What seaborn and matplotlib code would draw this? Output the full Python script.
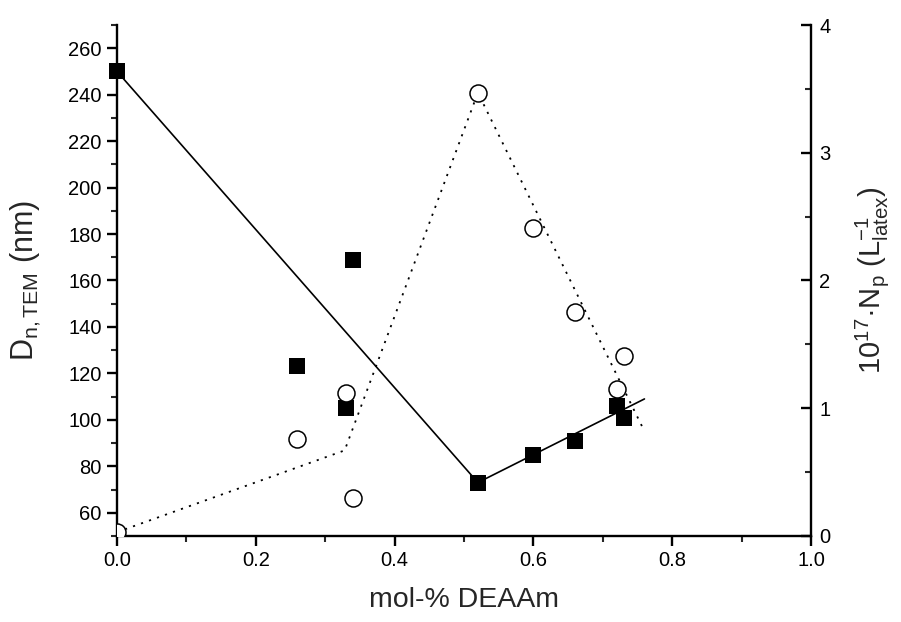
import numpy as np
import pandas as pd
import seaborn as sns
import matplotlib.pyplot as plt
from matplotlib.ticker import MultipleLocator

# filled squares: particle diameter (left axis)
sq_x = [0.0, 0.26, 0.33, 0.34, 0.52, 0.60, 0.66, 0.72, 0.73]
sq_d = [250, 123, 105, 169, 73, 85, 91, 106, 101]
# solid guide line
d_line_x = [0.0, 0.52, 0.76]
d_line_y = [250, 73, 109]

# open circles: particle number (right axis)
ci_x = [0.0, 0.26, 0.33, 0.34, 0.52, 0.60, 0.66, 0.72, 0.73]
ci_n = [0.03, 0.76, 1.12, 0.30, 3.47, 2.41, 1.75, 1.15, 1.41]
# dotted guide line
n_line_x = [0.0, 0.328, 0.52, 0.76]
n_line_y = [0.03, 0.67, 3.47, 0.82]

sns.set_theme(style="white")
plt.rcParams['font.family'] = ['Liberation Sans', 'DejaVu Sans']
plt.rcParams['mathtext.fontset'] = 'custom'
plt.rcParams['mathtext.rm'] = 'Liberation Sans'
plt.rcParams['mathtext.it'] = 'Liberation Sans'

fig = plt.figure(figsize=(9.01, 6.22), dpi=100)
ax = fig.add_axes([0.1299, 0.1383, 0.9001 - 0.1299, 0.9598 - 0.1383])
ax2 = ax.twinx()

sns.lineplot(x=d_line_x, y=d_line_y, ax=ax, color="black", lw=1.2,
             sort=False, estimator=None)
sns.scatterplot(x=sq_x, y=sq_d, ax=ax, marker="s", s=120, color="black",
                edgecolor="black", linewidth=0, zorder=3, clip_on=False)

sns.lineplot(x=n_line_x, y=n_line_y, ax=ax2, color="black", lw=1.3,
             linestyle=(0, (1.2, 3.5)), sort=False, estimator=None)
sns.scatterplot(x=ci_x, y=ci_n, ax=ax2, marker="o", s=150, facecolor="white",
                edgecolor="black", linewidth=1.1, zorder=3)

ax.set_xlim(0, 1.0)
ax.set_ylim(50, 270)
ax2.set_ylim(0, 4)

ax.xaxis.set_major_locator(MultipleLocator(0.2))
ax.xaxis.set_minor_locator(MultipleLocator(0.1))
ax.yaxis.set_minor_locator(MultipleLocator(10))
ax.set_yticks(np.arange(60, 261, 20))
ax2.yaxis.set_major_locator(MultipleLocator(1))
ax2.yaxis.set_minor_locator(MultipleLocator(0.5))
ax.xaxis.set_major_formatter(plt.FormatStrFormatter('%.1f'))

for a in (ax, ax2):
    a.spines['top'].set_visible(False)
    for s in a.spines.values():
        s.set_linewidth(1.7)
        s.set_color("black")
ax.spines['right'].set_visible(False)
ax2.spines['left'].set_visible(False)
ax2.spines['bottom'].set_visible(False)

ax.tick_params(axis='both', which='major', direction='out', length=7, width=1.7,
               labelsize=14.5, colors="black", left=True, bottom=True, pad=4)
ax.tick_params(axis='both', which='minor', direction='out', length=4, width=1.5,
               left=True, bottom=True)
ax2.tick_params(axis='y', which='major', direction='in', length=7, width=1.7,
                labelsize=14.5, colors="black", right=True, pad=6)
ax2.tick_params(axis='y', which='minor', direction='in', length=4, width=1.5, right=True)

ax.set_xlabel("mol-% DEAAm", fontsize=20.5, labelpad=12)
ax.set_ylabel(r"D$_\mathregular{n,TEM}$ (nm)", fontsize=22, labelpad=18)
ax2.set_ylabel(r"10$^\mathregular{17}$·N$_\mathregular{p}$ (L$_\mathregular{latex}^\mathregular{-1}$)",
               fontsize=21, labelpad=16)
ax.grid(False)
ax2.grid(False)

fig.savefig("out.png", dpi=100)
